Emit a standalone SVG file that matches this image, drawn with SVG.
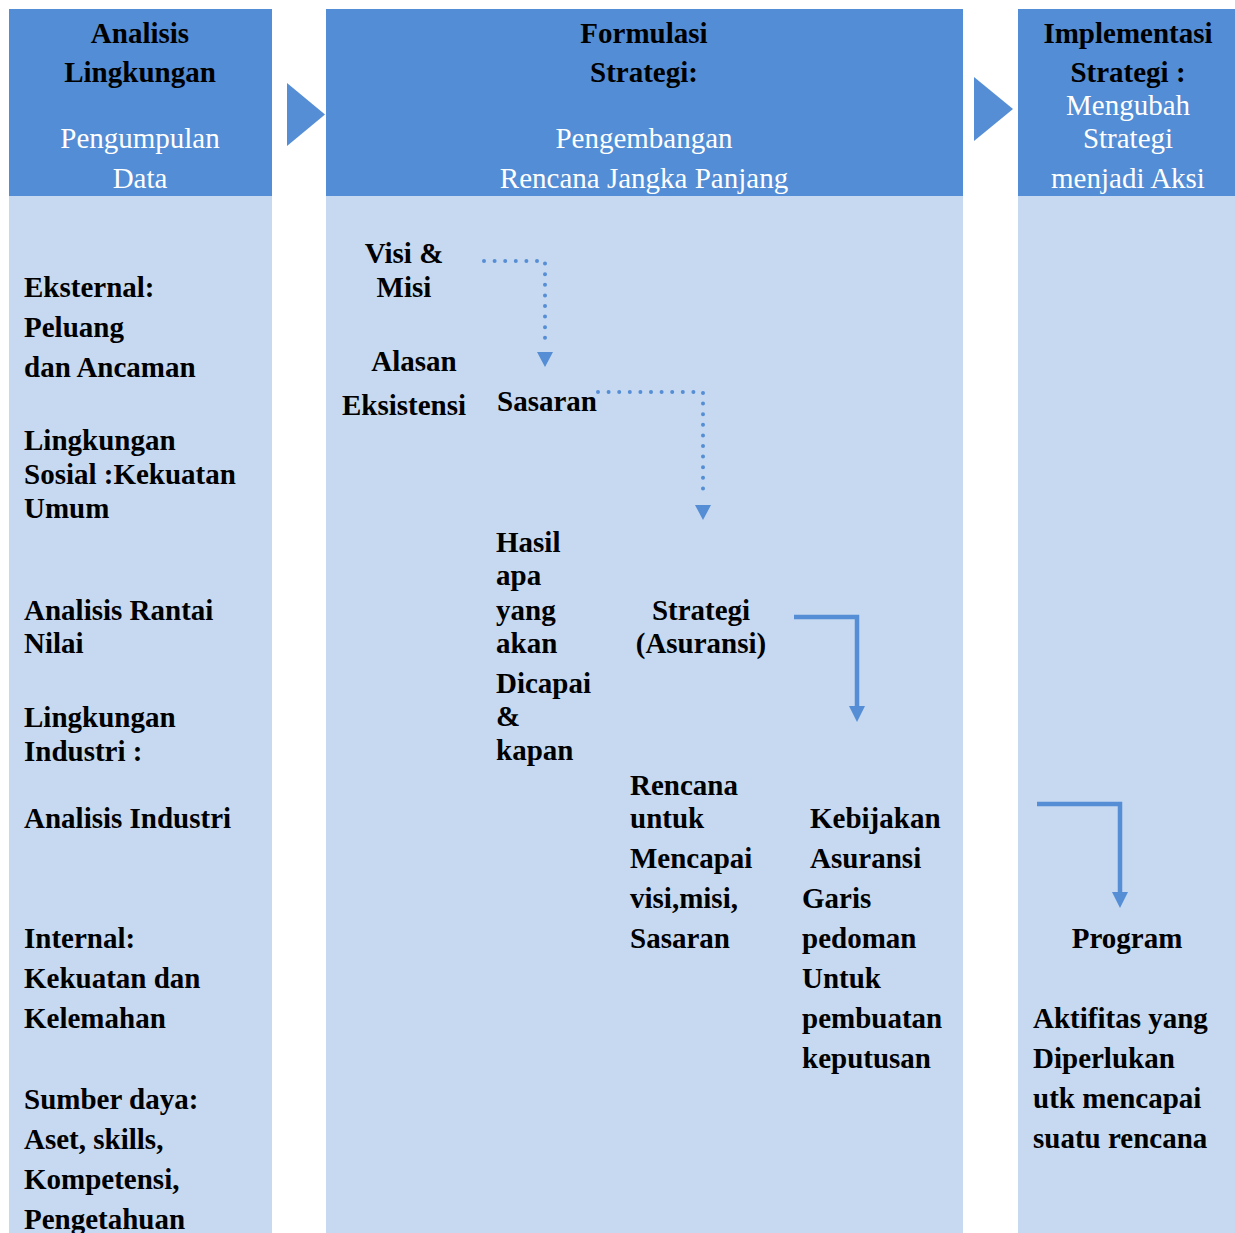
<svg xmlns="http://www.w3.org/2000/svg" width="1235" height="1233" viewBox="0 0 1235 1233">
<defs>
<style>
.hdr{fill:#538DD5}
.body{fill:#C6D9F1}
.b{font-family:"Liberation Serif","Times New Roman",serif;font-weight:bold;font-size:29px;fill:#000}
.w{font-family:"Liberation Serif","Times New Roman",serif;font-size:29px;fill:#FFFFFF}
.m{text-anchor:middle}
.dot{fill:none;stroke:#558ED5;stroke-width:4;stroke-linecap:round;stroke-dasharray:0 10.6}
.sol{fill:none;stroke:#558ED5;stroke-width:4.5}
.ah{fill:#558ED5}
</style>
</defs>
<rect width="1235" height="1233" fill="#FFFFFF"/>
<g id="col-analisis">
<rect class="body" x="9" y="196" width="263" height="1037"/>
<rect class="hdr" x="9" y="9" width="263" height="187"/>
<text class="b m" x="140" y="43">Analisis</text>
<text class="b m" x="140" y="82">Lingkungan</text>
<text class="w m" x="140" y="148">Pengumpulan</text>
<text class="w m" x="140" y="188">Data</text>
<text class="b" x="24" y="297">Eksternal:</text>
<text class="b" x="24" y="337">Peluang</text>
<text class="b" x="24" y="377">dan Ancaman</text>
<text class="b" x="24" y="450">Lingkungan</text>
<text class="b" x="24" y="484">Sosial :Kekuatan</text>
<text class="b" x="24" y="518">Umum</text>
<text class="b" x="24" y="620">Analisis Rantai</text>
<text class="b" x="24" y="653">Nilai</text>
<text class="b" x="24" y="727">Lingkungan</text>
<text class="b" x="24" y="761">Industri :</text>
<text class="b" x="24" y="828">Analisis Industri</text>
<text class="b" x="24" y="948">Internal:</text>
<text class="b" x="24" y="988">Kekuatan dan</text>
<text class="b" x="24" y="1028">Kelemahan</text>
<text class="b" x="24" y="1109">Sumber daya:</text>
<text class="b" x="24" y="1149">Aset, skills,</text>
<text class="b" x="24" y="1189">Kompetensi,</text>
<text class="b" x="24" y="1229">Pengetahuan</text>
</g>
<g id="chevron-1"><polygon class="ah" points="287,83 325,114.5 287,146"/></g>
<g id="col-formulasi">
<rect class="body" x="326" y="196" width="637" height="1037"/>
<rect class="hdr" x="326" y="9" width="637" height="187"/>
<text class="b m" x="644" y="43">Formulasi</text>
<text class="b m" x="644" y="82">Strategi:</text>
<text class="w m" x="644" y="148">Pengembangan</text>
<text class="w m" x="644" y="188">Rencana Jangka Panjang</text>
</g>
<g id="visi-misi">
<text class="b m" x="404" y="263">Visi &amp;</text>
<text class="b m" x="404" y="297">Misi</text>
<text class="b m" x="414" y="371">Alasan</text>
<text class="b m" x="404" y="415">Eksistensi</text>
</g>
<g id="sasaran"><text class="b" x="497" y="411">Sasaran</text></g>
<g id="hasil">
<text class="b" x="496" y="552">Hasil</text>
<text class="b" x="496" y="585">apa</text>
<text class="b" x="496" y="620">yang</text>
<text class="b" x="496" y="653">akan</text>
<text class="b" x="496" y="693">Dicapai</text>
<text class="b" x="496" y="726">&amp;</text>
<text class="b" x="496" y="760">kapan</text>
</g>
<g id="strategi">
<text class="b m" x="701" y="620">Strategi</text>
<text class="b m" x="701" y="653">(Asuransi)</text>
</g>
<g id="rencana">
<text class="b" x="630" y="795">Rencana</text>
<text class="b" x="630" y="828">untuk</text>
<text class="b" x="630" y="868">Mencapai</text>
<text class="b" x="630" y="908">visi,misi,</text>
<text class="b" x="630" y="948">Sasaran</text>
</g>
<g id="kebijakan">
<text class="b" x="810" y="828">Kebijakan</text>
<text class="b" x="810" y="868">Asuransi</text>
<text class="b" x="802" y="908">Garis</text>
<text class="b" x="802" y="948">pedoman</text>
<text class="b" x="802" y="988">Untuk</text>
<text class="b" x="802" y="1028">pembuatan</text>
<text class="b" x="802" y="1068">keputusan</text>
</g>
<g id="chevron-2"><polygon class="ah" points="974,77 1013,109 974,141"/></g>
<g id="col-implementasi">
<rect class="body" x="1018" y="196" width="217" height="1037"/>
<rect class="hdr" x="1018" y="9" width="217" height="187"/>
<text class="b m" x="1128" y="43">Implementasi</text>
<text class="b m" x="1128" y="82">Strategi :</text>
<text class="w m" x="1128" y="115">Mengubah</text>
<text class="w m" x="1128" y="148">Strategi</text>
<text class="w m" x="1128" y="188">menjadi Aksi</text>
</g>
<g id="program">
<text class="b m" x="1127" y="948">Program</text>
<text class="b" x="1033" y="1028">Aktifitas yang</text>
<text class="b" x="1033" y="1068">Diperlukan</text>
<text class="b" x="1033" y="1108">utk mencapai</text>
<text class="b" x="1033" y="1148">suatu rencana</text>
</g>
<g id="connectors">
<path class="dot" d="M484,261 H545 V347"/>
<polygon class="ah" points="537,352 553,352 545,367"/>
<path class="dot" d="M598,392 H703 V499"/>
<polygon class="ah" points="695,505 711,505 703,520"/>
<path class="sol" d="M794,617 H857 V707"/>
<polygon class="ah" points="849,706 865,706 857,722"/>
<path class="sol" d="M1037,804 H1120 V893"/>
<polygon class="ah" points="1112,892 1128,892 1120,908"/>
</g>
</svg>
